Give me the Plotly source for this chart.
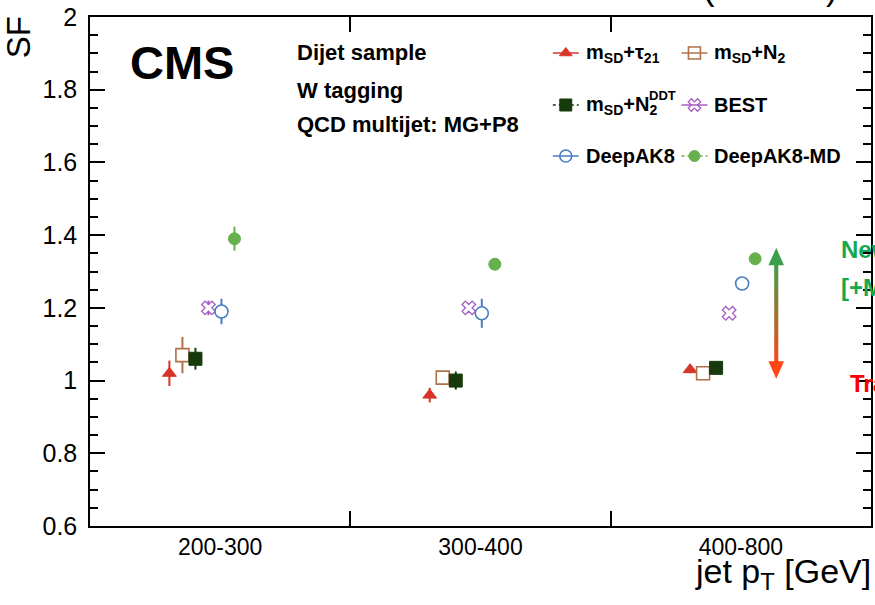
import plotly.graph_objects as go

# ---------------- data ----------------
bins = ["200-300", "300-400", "400-800"]
series_names = ["m<sub>SD</sub>+τ<sub>21</sub>", "m<sub>SD</sub>+N<sub>2</sub>",
                "m<sub>SD</sub>+N<sub>2</sub>", "BEST", "DeepAK8", "DeepAK8-MD"]
sf_tau21 = [1.02, 0.96, 1.03]
err_tau21 = [0.035, 0.02, 0.01]
sf_n2 = [1.07, 1.008, 1.02]
err_n2 = [0.05, 0.0, 0.0]
sf_n2ddt = [1.06, 1.00, 1.035]
err_n2ddt = [0.03, 0.025, 0.01]
sf_best = [1.20, 1.20, 1.185]
err_best = [0.02, 0.0, 0.0]
sf_deepak8 = [1.19, 1.185, 1.267]
err_deepak8 = [0.035, 0.04, 0.0]
sf_deepak8md = [1.39, 1.32, 1.335]
err_deepak8md = [0.033, 0.01, 0.01]

values = [sf_tau21, sf_n2, sf_n2ddt, sf_best, sf_deepak8, sf_deepak8md]
errors = [err_tau21, err_n2, err_n2ddt, err_best, err_deepak8, err_deepak8md]

# ---------------- styles ----------------
offsets = [-0.195, -0.145, -0.095, -0.045, 0.005, 0.055]
colors = ["#d7352a", "#b07048", "#173a0c", "#a45cc0", "#4a7cc0", "#66b04e"]
leg_symbols = ["triangle-up", "square-open", "square", "x-open", "circle-open", "circle"]
data_symbols = ["triangle-up", "square", "square", "x", "circle", "circle"]
fills = ["#d7352a", "white", "#173a0c", "white", "white", "#66b04e"]
sizes = [12, 13, 13, 12, 13, 12]
lw = [1, 1.6, 1, 1.3, 1.6, 1]
dashes = ["solid", "solid", "dash", "solid", "solid", "dash"]
FONT = "Liberation Sans, Arial, Helvetica, sans-serif"

L, R, T, B = 90, 873, 17, 526
W, H = 875, 605

def px(x):
    return (x - L) / (R - L)

def py(y):
    return (B - y) / (B - T)

fig = go.Figure()

# error bars first (underneath)
for i in range(6):
    xs = [j + 0.5 + offsets[i] for j in range(len(bins))]
    fig.add_trace(go.Scatter(
        x=xs, y=values[i], mode="markers",
        marker=dict(size=1, color=colors[i], opacity=0),
        error_y=dict(type="data", array=errors[i], color=colors[i], thickness=2, width=0),
        showlegend=False, hoverinfo="skip", xaxis="x", yaxis="y"))
# markers on top
for i in range(6):
    xs = [j + 0.5 + offsets[i] for j in range(len(bins))]
    fig.add_trace(go.Scatter(
        x=xs, y=values[i], mode="markers",
        marker=dict(symbol=data_symbols[i], size=sizes[i], color=fills[i],
                    line=dict(color=colors[i], width=lw[i])),
        showlegend=False, xaxis="x", yaxis="y"))

# ---------------- manual legend (pixel overlay axes) ----------------
leg_pos = [(567, 53), (696, 53), (567, 105), (696, 105), (567, 156), (696, 156)]
for i in range(6):
    cx, cy = leg_pos[i]
    fig.add_trace(go.Scatter(x=[cx - 13, cx + 13], y=[cy, cy], mode="lines",
                             line=dict(color=colors[i], width=1.5, dash="dot" if dashes[i] == "dash" else "solid"),
                             showlegend=False, xaxis="x2", yaxis="y2", hoverinfo="skip"))
    fig.add_trace(go.Scatter(x=[cx], y=[cy], mode="markers",
                             marker=dict(symbol=leg_symbols[i], size=sizes[i] - 1, color=colors[i],
                                         line=dict(color=colors[i], width=lw[i])),
                             showlegend=False, xaxis="x2", yaxis="y2", hoverinfo="skip"))
    fig.add_annotation(x=cx + 18, y=cy, xref="x2", yref="y2", text="<b>" + series_names[i] + "</b>",
                       showarrow=False, xanchor="left", yanchor="middle",
                       font=dict(family=FONT, size=20, color="black"))
# superscript DDT stacked above the subscript 2
fig.add_annotation(x=648, y=95, xref="x2", yref="y2", text="<b>DDT</b>", showarrow=False,
                   xanchor="left", yanchor="middle", font=dict(family=FONT, size=13, color="black"))

# ---------------- gradient arrow ----------------
ax_x = 2.636
y_top, y_bot = 1.365, 1.005
head = 0.048
c_top = (60, 160, 75)
c_bot = (255, 70, 20)
n = 30
ys0 = y_bot + head * 0.8
ys1 = y_top - head * 0.8
for k in range(n):
    a = ys0 + (ys1 - ys0) * k / n
    b = ys0 + (ys1 - ys0) * (k + 1) / n
    t = (k + 0.5) / n
    c = tuple(int(c_bot[m] + (c_top[m] - c_bot[m]) * t) for m in range(3))
    fig.add_shape(type="line", x0=ax_x, x1=ax_x, y0=a, y1=b + 0.002, xref="x", yref="y",
                  line=dict(color="rgb(%d,%d,%d)" % c, width=4))
hw = 0.03
fig.add_shape(type="path", xref="x", yref="y",
              path="M %f %f L %f %f L %f %f Z" % (ax_x, y_top, ax_x - hw, y_top - head, ax_x + hw, y_top - head),
              fillcolor="rgb(%d,%d,%d)" % c_top, line=dict(width=0))
fig.add_shape(type="path", xref="x", yref="y",
              path="M %f %f L %f %f L %f %f Z" % (ax_x, y_bot, ax_x - hw, y_bot + head, ax_x + hw, y_bot + head),
              fillcolor="rgb(%d,%d,%d)" % c_bot, line=dict(width=0))

# ---------------- texts ----------------
def ann(text, x, y, size, xanchor="left", yanchor="middle", color="black", angle=0):
    fig.add_annotation(x=px(x), y=py(y), xref="paper", yref="paper", text=text, showarrow=False,
                       xanchor=xanchor, yanchor=yanchor, textangle=angle,
                       font=dict(family=FONT, size=size, color=color))

ann("<b>CMS</b>", 128, 62, 47)
ann("<b>Dijet sample</b>", 296, 52, 22)
ann("<b>W tagging</b>", 296, 90, 22)
ann("<b>QCD multijet: MG+P8</b>", 296, 125, 22)
ann("35.9 fb<sup>-1</sup> (13 TeV)", 842, 9, 36, xanchor="right", yanchor="bottom")
ann("<b>Newer taggers</b>", 841, 250, 24, color="#15a84f")
ann("<b>[+MD]</b>", 841, 287, 24, color="#15a84f")
ann("<b>Traditional</b>", 850, 383, 24, color="#ff0000")
ann("SF", 18, 14, 33, xanchor="center", yanchor="top", angle=-90)
ann("jet p<sub>T</sub> [GeV]", 875, 573, 34, xanchor="right", yanchor="middle")

fig.update_layout(
    width=W, height=H,
    margin=dict(l=L, r=W - R, t=T, b=H - B, pad=0),
    paper_bgcolor="white", plot_bgcolor="white",
    font=dict(family=FONT, color="black"),
    showlegend=False,
    xaxis=dict(range=[0, 3], tickvals=[0.5, 1.5, 2.5], ticktext=bins, ticks="", showgrid=False,
               zeroline=False, showline=True, linecolor="black", linewidth=1.5, mirror="allticks",
               tickfont=dict(size=23, family=FONT),
               minor=dict(tickvals=[1, 2], ticks="inside", ticklen=15, tickcolor="black", tickwidth=1.5,
                          showgrid=False)),
    yaxis=dict(range=[0.6, 2.0], tick0=0.6, dtick=0.2, ticks="inside", ticklen=15, tickwidth=1.5,
               tickcolor="black", showgrid=False, zeroline=False, showline=True, linecolor="black",
               linewidth=1.5, mirror="allticks", tickfont=dict(size=25, family=FONT),
               ticklabelstandoff=6,
               minor=dict(dtick=0.05, ticks="inside", ticklen=8, tickcolor="black", tickwidth=1.5,
                          showgrid=False)),
    xaxis2=dict(range=[L, R], overlaying="x", visible=False, showgrid=False, zeroline=False),
    yaxis2=dict(range=[B, T], overlaying="y", visible=False, showgrid=False, zeroline=False),
)

fig.write_html("out.html")
